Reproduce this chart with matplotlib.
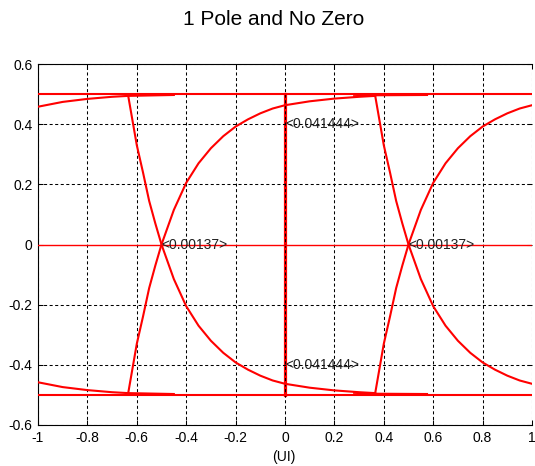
import numpy as np
import matplotlib
matplotlib.use('Agg')
import matplotlib.pyplot as plt

plt.rcParams['font.family'] = ['Liberation Sans', 'DejaVu Sans']
plt.rcParams['lines.scale_dashes'] = False

# rising edge of the 1 pole response (UI, V)
rise_x = np.array([-0.635, -0.6, -0.575, -0.55, -0.525, -0.5, -0.45, -0.4, -0.35, -0.3,
                   -0.25, -0.2, -0.15, -0.1, -0.05, 0.0, 0.1, 0.2, 0.3, 0.365])
rise_y = np.array([-0.495, -0.33, -0.24, -0.145, -0.07, 0.0, 0.115, 0.205, 0.27, 0.32,
                   0.36, 0.392, 0.416, 0.436, 0.452, 0.463, 0.476, 0.485, 0.491, 0.494])

# tail of previous transition at the left edge, and the "stays high" segment
tail_x = np.array([-1.0, -0.9, -0.8, -0.7, -0.635, -0.45])
tail_y = np.array([0.458, 0.474, 0.484, 0.491, 0.494, 0.497])
hold_x = np.array([0.28, 0.365, 0.575])
hold_y = np.array([0.493, 0.496, 0.497])

levels = [-0.5, 0.5]
eye_width_labels = [(-0.5, 0.0, '<0.00137>'), (0.5, 0.0, '<0.00137>')]
eye_height_labels = [(0.0, 0.4, '<0.041444>'), (0.0, -0.4, '<0.041444>')]

xticks = np.arange(-1, 1.01, 0.2)
xticklabels = ['-1', '-0.8', '-0.6', '-0.4', '-0.2', '0', '0.2', '0.4', '0.6', '0.8', '1']
yticks = np.arange(-0.6, 0.61, 0.2)
yticklabels = ['-0.6', '-0.4', '-0.2', '0', '0.2', '0.4', '0.6']

fig = plt.figure(figsize=(5.35, 4.66), dpi=100)
ax = fig.add_axes([38 / 535, 1 - 425 / 466, 494 / 535, 361 / 466])

lw = 1.5
for s in [1, -1]:
    # left transition followed by the opposite transition one UI later
    ax.plot(rise_x, s * rise_y, c='r', lw=lw, zorder=3)
    ax.plot(rise_x + 1, -s * rise_y, c='r', lw=lw, zorder=3)
    ax.plot(tail_x, s * tail_y, c='r', lw=lw, zorder=3)
    ax.plot(hold_x, s * hold_y, c='r', lw=lw, zorder=3)

for lv in levels:
    ax.plot([-1, 1], [lv, lv], c='r', lw=1.5, zorder=3)
ax.plot([-1, 1], [0, 0], c='#ff0000', lw=1.0, zorder=3)
ax.plot([0, 0], [-0.5, 0.5], c='r', lw=2.3, zorder=2)

for x, y, t in eye_width_labels + eye_height_labels:
    ax.text(x, y, t, ha='left', va='center', fontsize=10, color='#202020', zorder=4)

ax.set_xlim(-1, 1)
ax.set_ylim(-0.6, 0.6)
ax.set_xticks(xticks)
ax.set_xticklabels(xticklabels)
ax.set_yticks(yticks)
ax.set_yticklabels(yticklabels)
ax.set_axisbelow(False)
ax.grid(True, color='k', linestyle=(0, (2.2, 1.8)), linewidth=0.75)
# the red zero line hides the grid line at y=0
ax.yaxis.get_major_ticks()[3].gridline.set_visible(False)
ax.tick_params(direction='in', length=3.6, width=0.75, top=True, right=True,
               labelsize=10, pad=4)
ax.spines['right'].set_visible(False)
for sp in ['left', 'top', 'bottom']:
    ax.spines[sp].set_linewidth(0.8)

fig.text(274 / 535, 1 - 25 / 466, '1 Pole and No Zero', ha='center', va='baseline', fontsize=15)
fig.text(284 / 535, 1 - 461 / 466, '(UI)', ha='center', va='baseline', fontsize=10)

plt.savefig('out.png', dpi=100)
